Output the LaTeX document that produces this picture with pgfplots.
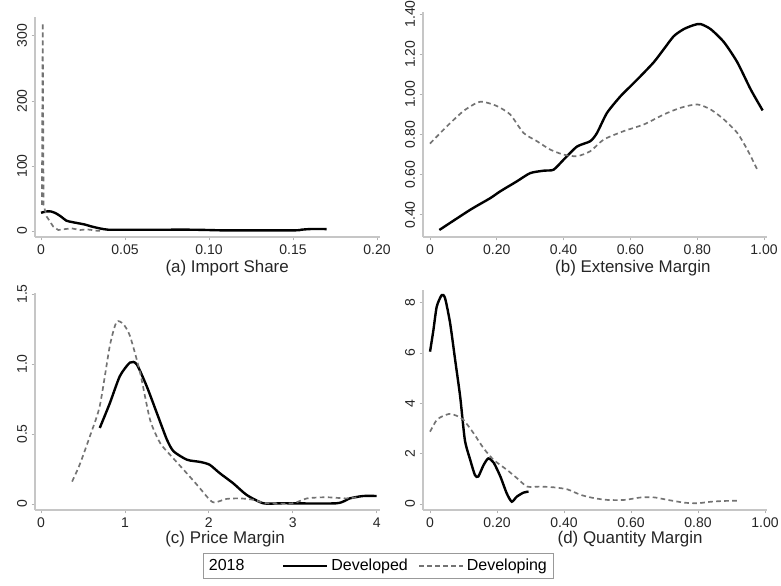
\documentclass[border=0pt]{standalone}
\usepackage{pgfplots}
\pgfplotsset{compat=1.18}
\usepackage{fontspec}
\setmainfont{Liberation Sans}

% kernel density estimates
\pgfplotstableread{
x y
0 28
0.003 30
0.006 30
0.009 27
0.012 22
0.015 16
0.018 14
0.022 12
0.026 10
0.030 7
0.035 4
0.040 2
0.050 2
0.070 2
0.090 2
0.100 1.5
0.110 1
0.150 1
0.155 2
0.160 3
0.170 3
}\aDev
\pgfplotstableread{
x y
0.0005 40
0.0010 320
0.0015 40
0.0034 22
0.0073 6.7
0.0103 1.5
0.0143 3
0.0183 4
0.0232 1.5
0.0272 2.6
0.0331 0.5
0.0351 0.3
}\aDvg
\pgfplotstableread{
x y
0.028 0.325
0.12 0.425
0.18 0.483
0.21 0.517
0.26 0.567
0.30 0.608
0.34 0.62
0.37 0.625
0.40 0.675
0.44 0.74
0.48 0.767
0.50 0.808
0.53 0.908
0.57 0.99
0.60 1.04
0.63 1.09
0.67 1.16
0.70 1.225
0.73 1.29
0.76 1.325
0.79 1.345
0.81 1.35
0.84 1.325
0.88 1.26
0.92 1.16
0.96 1.025
0.996 0.92
}\bDev
\pgfplotstableread{
x y
0 0.755
0.05 0.84
0.10 0.917
0.14 0.958
0.16 0.963
0.20 0.942
0.24 0.90
0.28 0.808
0.32 0.767
0.36 0.725
0.40 0.70
0.44 0.692
0.48 0.717
0.52 0.775
0.58 0.817
0.64 0.85
0.70 0.90
0.75 0.933
0.80 0.95
0.84 0.925
0.88 0.875
0.92 0.808
0.95 0.725
0.98 0.625
}\bDvg
\pgfplotstableread{
x y
0.70 0.543
0.82 0.72
0.94 0.914
1.06 1.01
1.14 0.998
1.26 0.84
1.38 0.65
1.50 0.46
1.58 0.376
1.74 0.316
1.90 0.30
2.01 0.28
2.13 0.22
2.29 0.148
2.45 0.065
2.65 0.005
2.89 0.005
3.52 0.005
3.68 0.04
3.84 0.057
4.00 0.057
}\cDev
\pgfplotstableread{
x y
0.37 0.16
0.46 0.28
0.58 0.48
0.70 0.70
0.82 1.13
0.90 1.30
0.98 1.285
1.06 1.20
1.18 0.94
1.30 0.60
1.42 0.435
1.54 0.35
1.70 0.244
1.86 0.136
2.01 0.03
2.07 0.01
2.21 0.036
2.37 0.04
2.53 0.03
2.69 0.005
3.00 0.005
3.17 0.04
3.40 0.048
3.64 0.04
3.80 0.05
}\cDvg
\pgfplotstableread{
x y
0 6.05
0.01 6.9
0.02 7.84
0.035 8.3
0.045 8.17
0.06 7.18
0.075 5.72
0.09 4.26
0.104 2.54
0.12 1.75
0.134 1.15
0.144 1.09
0.16 1.55
0.174 1.81
0.19 1.64
0.21 1.09
0.229 0.42
0.244 0.09
0.259 0.29
0.279 0.45
0.294 0.49
}\dDev
\pgfplotstableread{
x y
0 2.87
0.02 3.34
0.04 3.50
0.06 3.58
0.08 3.50
0.10 3.34
0.13 2.81
0.16 2.21
0.19 1.75
0.23 1.35
0.26 1.02
0.29 0.69
0.33 0.69
0.37 0.66
0.41 0.58
0.45 0.36
0.49 0.23
0.53 0.16
0.58 0.16
0.63 0.26
0.67 0.26
0.71 0.16
0.76 0.05
0.80 0.03
0.84 0.09
0.88 0.12
0.925 0.13
}\dDvg

\pgfplotsset{
  panel/.style={
    scale only axis,
    axis x line*=bottom, axis y line*=left,
    axis line style={gray!45, line width=0.8pt},
    tick align=outside, major tick length=2.5pt,
    tick style={gray!60, line width=0.6pt},
    /pgf/number format/assume math mode=true,
    ticklabel style={font=\fontsize{10.5}{12}\selectfont, text=black!85},
    yticklabel style={rotate=90, anchor=south},
    xlabel style={font=\fontsize{12.7}{14}\selectfont, anchor=center, text=black!85},
  },
  dev/.style={black, line width=1.8pt, smooth, tension=0.4},
  dvg/.style={black!55, line width=1.25pt, dash pattern=on 3.5pt off 2.5pt, smooth, tension=0.4},
}

\begin{document}
\begin{tikzpicture}
\useasboundingbox[fill=white] (0,0) rectangle (585.75pt,438.75pt);

% (a)
\begin{axis}[panel, at={(26.25pt,261pt)}, anchor=south west,
  width=258.75pt, height=165pt,
  xmin=-0.0036, xmax=0.2018, ymin=-9.2, ymax=329,
  xtick={0,0.05,0.1,0.15,0.2}, xticklabels={0,0.05,0.10,0.15,0.20},
  ytick={0,100,200,300}, yticklabels={0,100,200,300},
  xlabel={(a) Import Share},
  xlabel style={at={(axis description cs:0.557,0)}, yshift=-23.25pt}]
\addplot[dev] table {\aDev};
\addplot[dvg, sharp plot] table {\aDvg};
\end{axis}

% (b)
\begin{axis}[panel, at={(317.25pt,261pt)}, anchor=south west,
  width=258pt, height=168.75pt,
  xmin=-0.021, xmax=1.009, ymin=0.29, ymax=1.41,
  xtick={0,0.2,0.4,0.6,0.8,1}, xticklabels={0,0.20,0.40,0.60,0.80,1.00},
  ytick={0.4,0.6,0.8,1,1.2,1.4}, yticklabels={0.40,0.60,0.80,1.00,1.20,1.40},
  xlabel={(b) Extensive Margin},
  xlabel style={at={(axis description cs:0.61,0)}, yshift=-23.25pt}]
\addplot[dev] table {\bDev};
\addplot[dvg] table {\bDvg};
\end{axis}

% (c)
\begin{axis}[panel, at={(26.25pt,56.25pt)}, anchor=south west,
  width=258.75pt, height=162.75pt,
  xmin=-0.072, xmax=4.04, ymin=-0.043, ymax=1.507,
  xtick={0,1,2,3,4}, xticklabels={0,1,2,3,4},
  ytick={0,0.5,1,1.5}, yticklabels={0,0.5,1.0,1.5},
  xlabel={(c) Price Margin},
  xlabel style={at={(axis description cs:0.551,0)}, yshift=-21.75pt},
  legend columns=3,
  legend cell align=left,
  legend image code/.code={\draw[#1] (0pt,0pt) -- (33pt,0pt);},
  legend style={at={(0.994,-0.258)}, anchor=center, draw=gray!80,
    line width=0.6pt, inner sep=2.5pt,
    font=\fontsize{12}{14}\selectfont,
    /tikz/every even column/.append style={column sep=6pt}}]
\addlegendimage{empty legend}
\addlegendentry{\makebox[47pt][l]{2018}}
\addplot[dev] table {\cDev};
\addlegendentry{Developed}
\addplot[dvg] table {\cDvg};
\addlegendentry{Developing}
\end{axis}

% (d)
\begin{axis}[panel, at={(317.25pt,56.25pt)}, anchor=south west,
  width=258pt, height=165pt,
  xmin=-0.021, xmax=1.006, ymin=-0.24, ymax=8.5,
  xtick={0,0.2,0.4,0.6,0.8,1}, xticklabels={0,0.20,0.40,0.60,0.80,1.00},
  ytick={0,2,4,6,8}, yticklabels={0,2,4,6,8},
  xlabel={(d) Quantity Margin},
  xlabel style={at={(axis description cs:0.602,0)}, yshift=-21.75pt}]
\addplot[dev] table {\dDev};
\addplot[dvg] table {\dDvg};
\end{axis}
\end{tikzpicture}
\end{document}
